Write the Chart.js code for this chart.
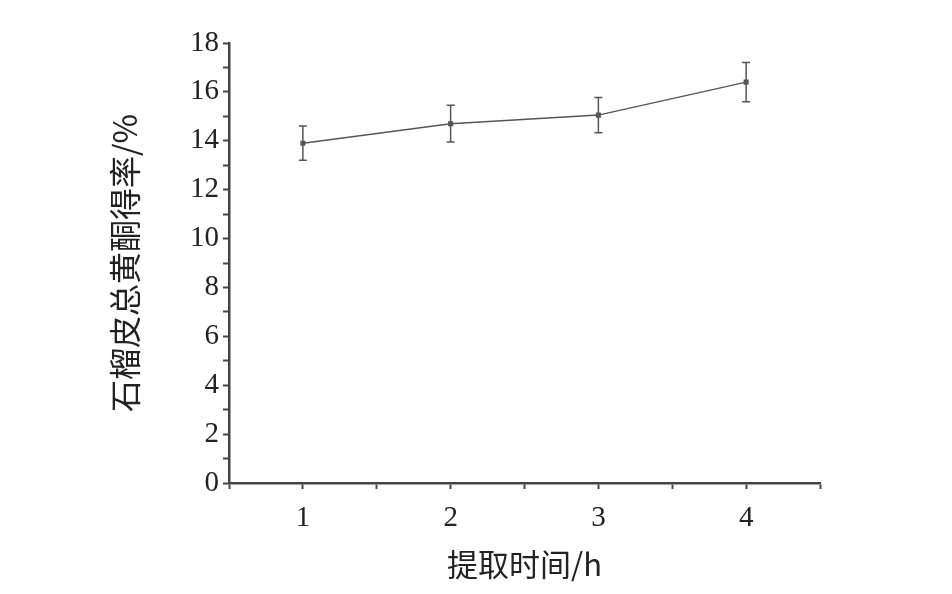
<!DOCTYPE html>
<html>
<head>
<meta charset="utf-8">
<script src="https://cdn.jsdelivr.net/npm/chart.js@4/dist/chart.umd.min.js"></script>
<style>
  html, body { margin: 0; padding: 0; background: #fff; }
  #wrap { width: 952px; height: 594px; }
</style>
</head>
<body>
<div id="wrap"><canvas id="grafico"></canvas></div>
<script>
// dados
const tempos = [1, 2, 3, 4];              // h
const rendimentos = [13.9, 14.7, 15.05, 16.4]; // %
const erros = [0.7, 0.75, 0.72, 0.8];

const corLinha = '#555';
const corEixo = '#444';
const corTexto = '#222';
const fonteNum = '"Liberation Serif", "Times New Roman", serif';
const fonteCJK = '"Noto Sans CJK SC", sans-serif';

// barras de erro desenhadas pelas escalas do próprio Chart.js
const barrasErro = {
    id: 'barrasErro',
    afterDatasetsDraw(chart) {
        const { ctx, scales: { x, y } } = chart;
        ctx.save();
        ctx.strokeStyle = corLinha;
        ctx.lineWidth = 1.5;
        tempos.forEach((t, i) => {
            const px = x.getPixelForValue(t);
            const top = y.getPixelForValue(rendimentos[i] + erros[i]);
            const bot = y.getPixelForValue(rendimentos[i] - erros[i]);
            ctx.beginPath();
            ctx.moveTo(px, top); ctx.lineTo(px, bot);
            ctx.moveTo(px - 4, top); ctx.lineTo(px + 4, top);
            ctx.moveTo(px - 4, bot); ctx.lineTo(px + 4, bot);
            ctx.stroke();
        });
        ctx.restore();
    }
};

const ctx = document.getElementById('grafico').getContext('2d');
new Chart(ctx, {
    type: 'line',
    data: {
        datasets: [{
            data: tempos.map((t, i) => ({ x: t, y: rendimentos[i] })),
            borderColor: corLinha,
            borderWidth: 1.5,
            pointStyle: 'rect',
            pointRadius: 2.5,
            pointBackgroundColor: corLinha,
            pointBorderColor: corLinha,
            tension: 0
        }]
    },
    options: {
        responsive: true,
        maintainAspectRatio: false,
        animation: false,
        layout: { padding: { left: 0, right: 132, top: 43, bottom: 0 } },
        plugins: {
            legend: { display: false },
            tooltip: { enabled: false }
        },
        scales: {
            x: {
                type: 'linear',
                min: 0.5,
                max: 4.5,
                afterFit(s) { s.height = 111; },
                ticks: {
                    stepSize: 0.5,
                    autoSkip: false,
                    maxRotation: 0,
                    padding: 12,
                    color: corTexto,
                    font: { family: fonteNum, size: 29 },
                    callback: v => Number.isInteger(v) ? v : ''
                },
                grid: { drawOnChartArea: false, drawTicks: true, tickLength: 6, tickWidth: 2, color: corEixo },
                border: { display: true, color: corEixo, width: 2.5 },
                title: {
                    display: true,
                    text: '提取时间/h',
                    color: corTexto,
                    font: { family: fonteCJK, size: 31 },
                    padding: { bottom: 11 }
                }
            },
            y: {
                min: 0,
                max: 18,
                afterFit(s) { s.width = 229; },
                ticks: {
                    stepSize: 1,
                    autoSkip: false,
                    padding: 4,
                    color: corTexto,
                    font: { family: fonteNum, size: 29 },
                    callback: v => v % 2 === 0 ? v : ''
                },
                grid: { drawOnChartArea: false, drawTicks: true, tickLength: 6, tickWidth: 2, color: corEixo },
                border: { display: true, color: corEixo, width: 2.5 },
                title: {
                    display: true,
                    text: '石榴皮总黄酮得率/%',
                    color: corTexto,
                    font: { family: fonteCJK, size: 32 },
                    padding: { top: 106 }
                }
            }
        }
    },
    plugins: [barrasErro]
});
</script>
</body>
</html>
